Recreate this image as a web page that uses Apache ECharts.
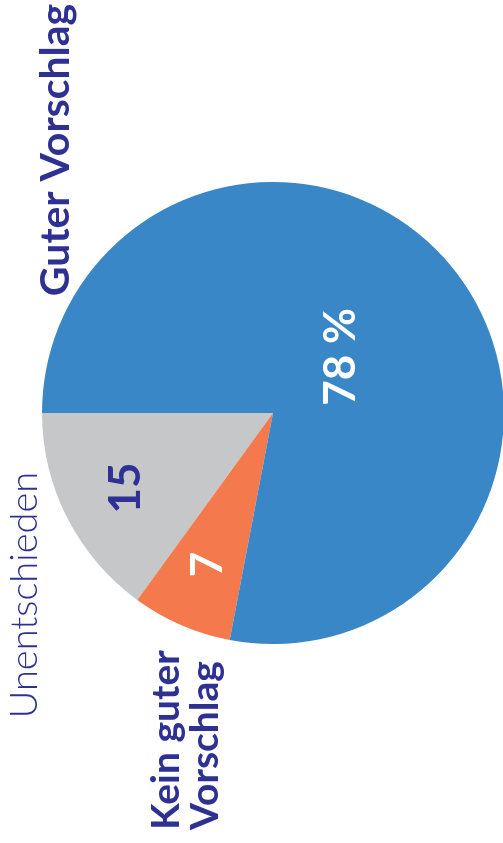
<!DOCTYPE html>
<html>
<head>
<meta charset="utf-8">
<script src="https://cdn.jsdelivr.net/npm/echarts@6/dist/echarts.min.js"></script>
<style>
  html, body { margin: 0; padding: 0; background: #fff; }
  #chart { width: 503px; height: 843px; }
</style>
</head>
<body>
<div id="chart"></div>
<script>
// Daten
const categories = ["Unentschieden", "Kein guter\nVorschlag", "Guter Vorschlag"];
const values = [15, 7, 78];
const colors = ["#c6c7c9", "#f47a4e", "#3a87c8"];
const labelColors = ["#2e3192", "#ffffff", "#ffffff"];

const navy = "#2e3192";
const font = "Lato, 'Noto Sans', sans-serif";

const chart = echarts.init(document.getElementById("chart"));

// Wert-Label: beim größten Anteil mit Prozentzeichen
const fmt = (p) => (p.dataIndex === 2 ? p.value + " %" : String(p.value));

const pieBase = {
  type: "pie",
  center: [273, 413],
  startAngle: 180,
  clockwise: false,
  animation: false,
  silent: true,
  labelLine: { show: false },
};

// Unsichtbare Hilfsserien, nur um die Beschriftungen zu platzieren
const labelSeries = (radius, show) => ({
  ...pieBase,
  radius: radius,
  itemStyle: { color: "rgba(0,0,0,0)" },
  data: values.map((v, i) => ({
    value: v,
    name: categories[i],
    label: {
      show: show[i],
      position: "inside",
      rotate: 90,
      formatter: fmt,
      color: labelColors[i],
      fontFamily: font,
      fontWeight: "bold",
      fontSize: 44,
    },
  })),
});

const option = {
  backgroundColor: "#ffffff",
  series: [
    {
      ...pieBase,
      radius: [0, 231],
      label: { show: false },
      data: values.map((v, i) => ({
        value: v,
        name: categories[i],
        itemStyle: { color: colors[i], borderWidth: 0 },
      })),
    },
    labelSeries([124, 200], [true, true, false]),
    labelSeries([0, 170], [false, false, true]),
  ],
  graphic: [
    {
      type: "text",
      x: 56,
      y: 150,
      rotation: Math.PI / 2,
      style: {
        text: categories[2],
        fill: navy,
        font: "bold 41px " + font,
        textAlign: "center",
        textVerticalAlign: "middle",
      },
    },
    {
      type: "text",
      x: 25,
      y: 595,
      rotation: Math.PI / 2,
      style: {
        text: categories[0],
        fill: navy,
        font: "300 38px " + font,
        textAlign: "center",
        textVerticalAlign: "middle",
      },
    },
    {
      type: "text",
      x: 186,
      y: 830,
      rotation: Math.PI / 2,
      style: {
        text: categories[1],
        fill: navy,
        font: "bold 39px " + font,
        lineHeight: 39,
        textAlign: "left",
        textVerticalAlign: "middle",
      },
    },
  ],
};

chart.setOption(option);
</script>
</body>
</html>
